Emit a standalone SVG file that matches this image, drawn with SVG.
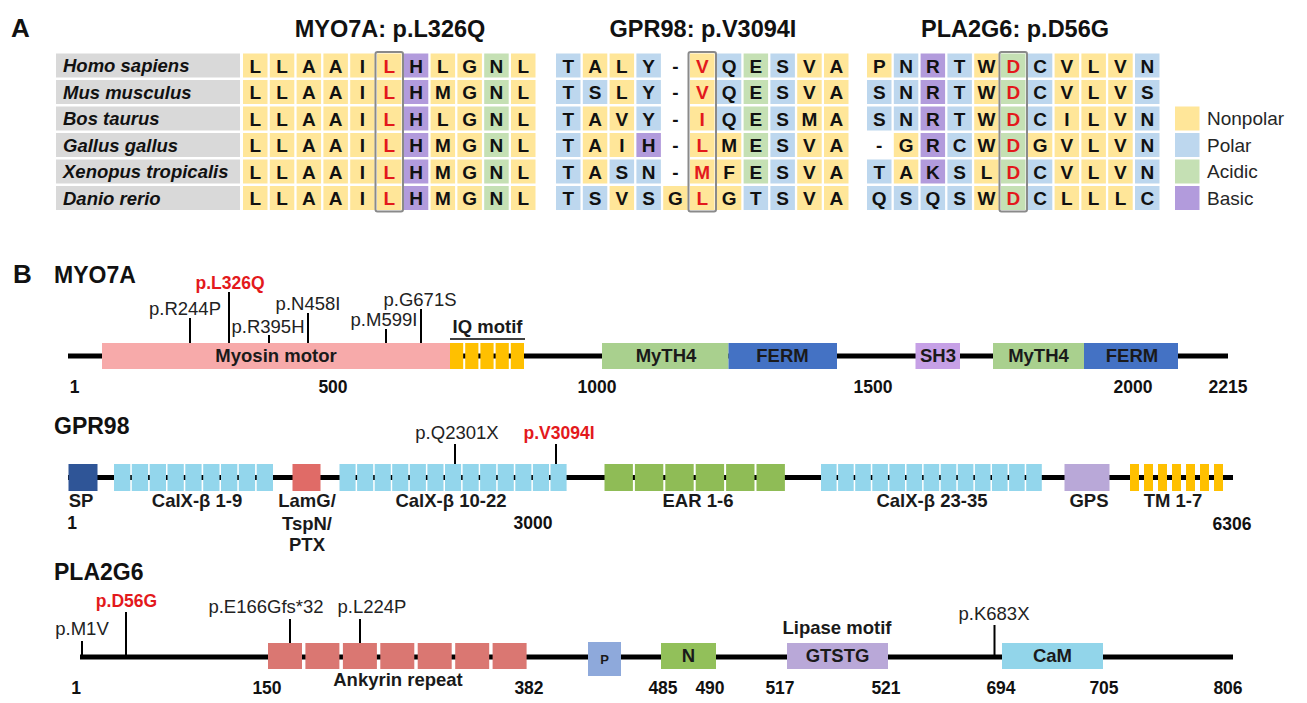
<svg xmlns="http://www.w3.org/2000/svg" xmlns:xlink="http://www.w3.org/1999/xlink" width="1307" height="703" viewBox="0 0 1307 703">
<style>
text{font-family:"Liberation Sans",Arial,sans-serif;fill:#111}
.pl{font-size:26px;font-weight:bold}
.ttl{font-size:23.5px;font-weight:bold;text-anchor:middle}
.sp{font-size:18.5px;font-weight:bold;font-style:italic}
.aa{font-size:19px;font-weight:bold;text-anchor:middle}
.red{fill:#E3191C}
.lg{font-size:19px;fill:#262626}
.gn{font-size:23px;font-weight:bold}
.mu{font-size:18.5px;fill:#222;text-anchor:middle}
.mr{font-size:17.5px;font-weight:bold;fill:#E3191C;text-anchor:middle}
.dl{font-size:18.5px;font-weight:bold;text-anchor:middle;fill:#1a1a1a}
.nm{font-size:17.5px;font-weight:bold;text-anchor:middle}
.bb{stroke:#000;stroke-width:5}
.tk{stroke:#000;stroke-width:2}
.hl{fill:none;stroke:#8a8a8a;stroke-width:2}
.lab{fill:#D9D9D9}
</style>
<defs>
<rect id="Y" width="24.5" height="24" fill="#FFE699"/>
<rect id="B" width="24.5" height="24" fill="#BDD7EE"/>
<rect id="G" width="24.5" height="24" fill="#C5E0B4"/>
<rect id="P" width="24.5" height="24" fill="#B29BDC"/>
<g id="myoRow"><use href="#Y"/><use href="#Y" x="26.8"/><use href="#Y" x="53.6"/><use href="#Y" x="80.4"/><use href="#Y" x="107.2"/><use href="#Y" x="134"/><use href="#P" x="160.8"/><use href="#Y" x="187.6"/><use href="#Y" x="214.4"/><use href="#G" x="241.2"/><use href="#Y" x="268"/></g>
</defs>
<rect width="1307" height="703" fill="#fff"/>

<g id="panelA">
<text class="pl" x="11" y="37">A</text>
<text class="ttl" x="390" y="37">MYO7A: p.L326Q</text>
<text class="ttl" x="703" y="37">GPR98: p.V3094I</text>
<text class="ttl" x="1015" y="37">PLA2G6: p.D56G</text>

<g id="species">
<rect class="lab" x="56" y="53.5" width="184" height="24"/>
<rect class="lab" x="56" y="80" width="184" height="24"/>
<rect class="lab" x="56" y="106.5" width="184" height="24"/>
<rect class="lab" x="56" y="133" width="184" height="24"/>
<rect class="lab" x="56" y="159.5" width="184" height="24"/>
<rect class="lab" x="56" y="186" width="184" height="24"/>
<text class="sp" x="63" y="72">Homo sapiens</text>
<text class="sp" x="63" y="98.5">Mus musculus</text>
<text class="sp" x="63" y="125">Bos taurus</text>
<text class="sp" x="63" y="151.5">Gallus gallus</text>
<text class="sp" x="63" y="178">Xenopus tropicalis</text>
<text class="sp" x="63" y="204.5">Danio rerio</text>
</g>

<g id="alignMYO7A" transform="translate(243,0)">
<use href="#myoRow" y="53.5"/><use href="#myoRow" y="80"/><use href="#myoRow" y="106.5"/><use href="#myoRow" y="133"/><use href="#myoRow" y="159.5"/><use href="#myoRow" y="186"/>
<text class="aa" x="12.25 39.05 65.85 92.65 119.45 146.25 173.05 199.85 226.65 253.45 280.25" y="72.5">LLAAI<tspan class="red">L</tspan>HLGNL</text>
<text class="aa" x="12.25 39.05 65.85 92.65 119.45 146.25 173.05 199.85 226.65 253.45 280.25" y="99">LLAAI<tspan class="red">L</tspan>HMGNL</text>
<text class="aa" x="12.25 39.05 65.85 92.65 119.45 146.25 173.05 199.85 226.65 253.45 280.25" y="125.5">LLAAI<tspan class="red">L</tspan>HLGNL</text>
<text class="aa" x="12.25 39.05 65.85 92.65 119.45 146.25 173.05 199.85 226.65 253.45 280.25" y="152">LLAAI<tspan class="red">L</tspan>HMGNL</text>
<text class="aa" x="12.25 39.05 65.85 92.65 119.45 146.25 173.05 199.85 226.65 253.45 280.25" y="178.5">LLAAI<tspan class="red">L</tspan>HMGNL</text>
<text class="aa" x="12.25 39.05 65.85 92.65 119.45 146.25 173.05 199.85 226.65 253.45 280.25" y="205">LLAAI<tspan class="red">L</tspan>HMGNL</text>
<rect class="hl" x="132.5" y="52" width="27.5" height="159.5" rx="2"/>
</g>

<g id="alignGPR98" transform="translate(556,0)">
<g transform="translate(0,53.5)"><use href="#B"/><use href="#Y" x="26.8"/><use href="#Y" x="53.6"/><use href="#B" x="80.4"/><use href="#Y" x="134"/><use href="#B" x="160.8"/><use href="#G" x="187.6"/><use href="#B" x="214.4"/><use href="#Y" x="241.2"/><use href="#Y" x="268"/></g>
<g transform="translate(0,80)"><use href="#B"/><use href="#B" x="26.8"/><use href="#Y" x="53.6"/><use href="#B" x="80.4"/><use href="#Y" x="134"/><use href="#B" x="160.8"/><use href="#G" x="187.6"/><use href="#B" x="214.4"/><use href="#Y" x="241.2"/><use href="#Y" x="268"/></g>
<g transform="translate(0,106.5)"><use href="#B"/><use href="#Y" x="26.8"/><use href="#Y" x="53.6"/><use href="#B" x="80.4"/><use href="#Y" x="134"/><use href="#B" x="160.8"/><use href="#G" x="187.6"/><use href="#B" x="214.4"/><use href="#Y" x="241.2"/><use href="#Y" x="268"/></g>
<g transform="translate(0,133)"><use href="#B"/><use href="#Y" x="26.8"/><use href="#Y" x="53.6"/><use href="#P" x="80.4"/><use href="#Y" x="134"/><use href="#Y" x="160.8"/><use href="#G" x="187.6"/><use href="#B" x="214.4"/><use href="#Y" x="241.2"/><use href="#Y" x="268"/></g>
<g transform="translate(0,159.5)"><use href="#B"/><use href="#Y" x="26.8"/><use href="#B" x="53.6"/><use href="#B" x="80.4"/><use href="#Y" x="134"/><use href="#Y" x="160.8"/><use href="#G" x="187.6"/><use href="#B" x="214.4"/><use href="#Y" x="241.2"/><use href="#Y" x="268"/></g>
<g transform="translate(0,186)"><use href="#B"/><use href="#B" x="26.8"/><use href="#Y" x="53.6"/><use href="#B" x="80.4"/><use href="#Y" x="107.2"/><use href="#Y" x="134"/><use href="#Y" x="160.8"/><use href="#B" x="187.6"/><use href="#B" x="214.4"/><use href="#Y" x="241.2"/><use href="#Y" x="268"/></g>
<text class="aa" x="12.25 39.05 65.85 92.65 119.45 146.25 173.05 199.85 226.65 253.45 280.25" y="72.5">TALY-<tspan class="red">V</tspan>QESVA</text>
<text class="aa" x="12.25 39.05 65.85 92.65 119.45 146.25 173.05 199.85 226.65 253.45 280.25" y="99">TSLY-<tspan class="red">V</tspan>QESVA</text>
<text class="aa" x="12.25 39.05 65.85 92.65 119.45 146.25 173.05 199.85 226.65 253.45 280.25" y="125.5">TAVY-<tspan class="red">I</tspan>QESMA</text>
<text class="aa" x="12.25 39.05 65.85 92.65 119.45 146.25 173.05 199.85 226.65 253.45 280.25" y="152">TAIH-<tspan class="red">L</tspan>MESVA</text>
<text class="aa" x="12.25 39.05 65.85 92.65 119.45 146.25 173.05 199.85 226.65 253.45 280.25" y="178.5">TASN-<tspan class="red">M</tspan>FESVA</text>
<text class="aa" x="12.25 39.05 65.85 92.65 119.45 146.25 173.05 199.85 226.65 253.45 280.25" y="205">TSVSG<tspan class="red">L</tspan>GTSVA</text>
<rect class="hl" x="132.5" y="52" width="27.5" height="159.5" rx="2"/>
</g>

<g id="alignPLA2G6" transform="translate(867,0)">
<g transform="translate(0,53.5)"><use href="#Y"/><use href="#B" x="26.8"/><use href="#P" x="53.6"/><use href="#B" x="80.4"/><use href="#Y" x="107.2"/><use href="#G" x="134"/><use href="#B" x="160.8"/><use href="#Y" x="187.6"/><use href="#Y" x="214.4"/><use href="#Y" x="241.2"/><use href="#B" x="268"/></g>
<g transform="translate(0,80)"><use href="#B"/><use href="#B" x="26.8"/><use href="#P" x="53.6"/><use href="#B" x="80.4"/><use href="#Y" x="107.2"/><use href="#G" x="134"/><use href="#B" x="160.8"/><use href="#Y" x="187.6"/><use href="#Y" x="214.4"/><use href="#Y" x="241.2"/><use href="#B" x="268"/></g>
<g transform="translate(0,106.5)"><use href="#B"/><use href="#B" x="26.8"/><use href="#P" x="53.6"/><use href="#B" x="80.4"/><use href="#Y" x="107.2"/><use href="#G" x="134"/><use href="#B" x="160.8"/><use href="#Y" x="187.6"/><use href="#Y" x="214.4"/><use href="#Y" x="241.2"/><use href="#B" x="268"/></g>
<g transform="translate(0,133)"><use href="#Y" x="26.8"/><use href="#P" x="53.6"/><use href="#B" x="80.4"/><use href="#Y" x="107.2"/><use href="#G" x="134"/><use href="#Y" x="160.8"/><use href="#Y" x="187.6"/><use href="#Y" x="214.4"/><use href="#Y" x="241.2"/><use href="#B" x="268"/></g>
<g transform="translate(0,159.5)"><use href="#B"/><use href="#Y" x="26.8"/><use href="#P" x="53.6"/><use href="#B" x="80.4"/><use href="#Y" x="107.2"/><use href="#G" x="134"/><use href="#B" x="160.8"/><use href="#Y" x="187.6"/><use href="#Y" x="214.4"/><use href="#Y" x="241.2"/><use href="#B" x="268"/></g>
<g transform="translate(0,186)"><use href="#B"/><use href="#B" x="26.8"/><use href="#B" x="53.6"/><use href="#B" x="80.4"/><use href="#Y" x="107.2"/><use href="#G" x="134"/><use href="#B" x="160.8"/><use href="#Y" x="187.6"/><use href="#Y" x="214.4"/><use href="#Y" x="241.2"/><use href="#B" x="268"/></g>
<text class="aa" x="12.25 39.05 65.85 92.65 119.45 146.25 173.05 199.85 226.65 253.45 280.25" y="72.5">PNRTW<tspan class="red">D</tspan>CVLVN</text>
<text class="aa" x="12.25 39.05 65.85 92.65 119.45 146.25 173.05 199.85 226.65 253.45 280.25" y="99">SNRTW<tspan class="red">D</tspan>CVLVS</text>
<text class="aa" x="12.25 39.05 65.85 92.65 119.45 146.25 173.05 199.85 226.65 253.45 280.25" y="125.5">SNRTW<tspan class="red">D</tspan>CILVN</text>
<text class="aa" x="12.25 39.05 65.85 92.65 119.45 146.25 173.05 199.85 226.65 253.45 280.25" y="152">-GRCW<tspan class="red">D</tspan>GVLVN</text>
<text class="aa" x="12.25 39.05 65.85 92.65 119.45 146.25 173.05 199.85 226.65 253.45 280.25" y="178.5">TAKSL<tspan class="red">D</tspan>CVLVN</text>
<text class="aa" x="12.25 39.05 65.85 92.65 119.45 146.25 173.05 199.85 226.65 253.45 280.25" y="205">QSQSW<tspan class="red">D</tspan>CLLLC</text>
<rect class="hl" x="132.5" y="52" width="27.5" height="159.5" rx="2"/>
</g>

<g id="legend">
<use href="#Y" x="1175" y="106.5"/>
<use href="#B" x="1175" y="133"/>
<use href="#G" x="1175" y="159.5"/>
<use href="#P" x="1175" y="186"/>
<text class="lg" x="1207" y="125">Nonpolar</text>
<text class="lg" x="1207" y="151.5">Polar</text>
<text class="lg" x="1207" y="178">Acidic</text>
<text class="lg" x="1207" y="204.5">Basic</text>
</g>
</g>

<g id="panelB">
<text class="pl" x="13" y="283">B</text>

<g id="connectors">
<line class="bb" x1="68" y1="356" x2="1228" y2="356"/>
<line class="bb" x1="68" y1="477.5" x2="1233" y2="477.5"/>
<line class="bb" x1="80" y1="657" x2="1233" y2="657"/>
<line class="tk" x1="190" y1="318" x2="190" y2="343"/>
<line class="tk" x1="229" y1="292" x2="229" y2="343"/>
<line class="tk" x1="269" y1="335" x2="269" y2="343"/>
<line class="tk" x1="308" y1="313" x2="308" y2="343"/>
<line class="tk" x1="386" y1="329" x2="386" y2="343"/>
<line class="tk" x1="421" y1="309" x2="421" y2="343"/>
<line stroke="#000" stroke-width="1.5" x1="450" y1="339" x2="525" y2="339"/>
<line class="tk" x1="455" y1="444" x2="455" y2="464"/>
<line class="tk" x1="556" y1="444" x2="556" y2="464"/>
<line class="tk" x1="82" y1="641" x2="82" y2="657"/>
<line class="tk" x1="126" y1="612" x2="126" y2="657"/>
<line class="tk" x1="290" y1="619" x2="290" y2="643"/>
<line class="tk" x1="360" y1="619" x2="360" y2="643"/>
<line class="tk" x1="994.5" y1="625" x2="994.5" y2="657"/>
</g>

<g id="MYO7A">
<text class="gn" x="54" y="283">MYO7A</text>
<g id="myo-motor"><rect x="102" y="343" width="348" height="26" fill="#F7AAAA"/><text class="dl" x="276" y="362">Myosin motor</text></g>
<g id="myo-iq" fill="#FFC000"><rect x="450" y="343" width="13.2" height="26"/><rect x="465.2" y="343" width="13.2" height="26"/><rect x="480.4" y="343" width="13.2" height="26"/><rect x="495.6" y="343" width="13.2" height="26"/><rect x="510.8" y="343" width="13.2" height="26"/></g>
<text class="dl" x="487.5" y="333">IQ motif</text>
<g id="myo-myth4a"><rect x="602" y="343" width="126.5" height="26" fill="#A9D08E"/><text class="dl" x="666" y="362">MyTH4</text></g>
<g id="myo-ferma"><rect x="728.5" y="343" width="108.5" height="26" fill="#4472C4"/><text class="dl" x="782.5" y="362">FERM</text></g>
<g id="myo-sh3"><rect x="915.5" y="343" width="44.5" height="26" fill="#C6A0E6"/><text class="dl" x="938" y="362">SH3</text></g>
<g id="myo-myth4b"><rect x="993" y="343" width="91" height="26" fill="#A9D08E"/><text class="dl" x="1038.5" y="362">MyTH4</text></g>
<g id="myo-fermb"><rect x="1084" y="343" width="94" height="26" fill="#4472C4"/><text class="dl" x="1132" y="362">FERM</text></g>
<text class="mu" x="185" y="315">p.R244P</text>
<text class="mr" x="230" y="289">p.L326Q</text>
<text class="mu" x="268" y="333">p.R395H</text>
<text class="mu" x="308" y="310">p.N458I</text>
<text class="mu" x="384" y="326">p.M599I</text>
<text class="mu" x="420" y="306">p.G671S</text>
<text class="nm" x="74.5" y="393">1</text>
<text class="nm" x="333" y="393">500</text>
<text class="nm" x="597" y="393">1000</text>
<text class="nm" x="873" y="393">1500</text>
<text class="nm" x="1133" y="393">2000</text>
<text class="nm" x="1228" y="393">2215</text>
</g>

<g id="GPR98">
<text class="gn" x="54" y="434">GPR98</text>
<rect id="gpr-sp" x="68.5" y="464" width="29" height="27" fill="#2F5597"/>
<g id="gpr-calx1" fill="#93D6EC"><rect x="114" y="464" width="16.3" height="27"/><rect x="131.8" y="464" width="16.3" height="27"/><rect x="149.7" y="464" width="16.3" height="27"/><rect x="167.5" y="464" width="16.3" height="27"/><rect x="185.3" y="464" width="16.3" height="27"/><rect x="203.2" y="464" width="16.3" height="27"/><rect x="221" y="464" width="16.3" height="27"/><rect x="238.8" y="464" width="16.3" height="27"/><rect x="256.7" y="464" width="16.3" height="27"/></g>
<rect id="gpr-lamg" x="292.5" y="464" width="28" height="27" fill="#E06B67"/>
<g id="gpr-calx2" fill="#93D6EC"><rect x="339.5" y="464" width="16.1" height="27"/><rect x="357.1" y="464" width="16.1" height="27"/><rect x="374.7" y="464" width="16.1" height="27"/><rect x="392.2" y="464" width="16.1" height="27"/><rect x="409.8" y="464" width="16.1" height="27"/><rect x="427.4" y="464" width="16.1" height="27"/><rect x="445" y="464" width="16.1" height="27"/><rect x="462.6" y="464" width="16.1" height="27"/><rect x="480.1" y="464" width="16.1" height="27"/><rect x="497.7" y="464" width="16.1" height="27"/><rect x="515.3" y="464" width="16.1" height="27"/><rect x="532.9" y="464" width="16.1" height="27"/><rect x="550.5" y="464" width="16.1" height="27"/></g>
<g id="gpr-ear" fill="#8FBC56"><rect x="604.5" y="464" width="28.4" height="27"/><rect x="634.9" y="464" width="28.4" height="27"/><rect x="665.3" y="464" width="28.4" height="27"/><rect x="695.7" y="464" width="28.4" height="27"/><rect x="726.1" y="464" width="28.4" height="27"/><rect x="756.5" y="464" width="28.4" height="27"/></g>
<g id="gpr-calx3" fill="#93D6EC"><rect x="821" y="464" width="15.6" height="27"/><rect x="838.1" y="464" width="15.6" height="27"/><rect x="855.2" y="464" width="15.6" height="27"/><rect x="872.3" y="464" width="15.6" height="27"/><rect x="889.4" y="464" width="15.6" height="27"/><rect x="906.5" y="464" width="15.6" height="27"/><rect x="923.6" y="464" width="15.6" height="27"/><rect x="940.7" y="464" width="15.6" height="27"/><rect x="957.8" y="464" width="15.6" height="27"/><rect x="974.9" y="464" width="15.6" height="27"/><rect x="992" y="464" width="15.6" height="27"/><rect x="1009.1" y="464" width="15.6" height="27"/><rect x="1026.2" y="464" width="15.6" height="27"/></g>
<rect id="gpr-gps" x="1064.5" y="464" width="45" height="27" fill="#B9A8D8"/>
<g id="gpr-tm" fill="#FFC000"><rect x="1130" y="464" width="9" height="27"/><rect x="1144" y="464" width="9" height="27"/><rect x="1158" y="464" width="9" height="27"/><rect x="1172" y="464" width="9" height="27"/><rect x="1186" y="464" width="9" height="27"/><rect x="1200" y="464" width="9" height="27"/><rect x="1214" y="464" width="9" height="27"/></g>
<text class="mu" x="457" y="439">p.Q2301X</text>
<text class="mr" x="559" y="439">p.V3094I</text>
<text class="dl" x="81" y="507">SP</text>
<text class="dl" x="197" y="507">CalX-β 1-9</text>
<text class="dl" x="307" y="507">LamG/</text>
<text class="dl" x="307" y="530">TspN/</text>
<text class="dl" x="307" y="551">PTX</text>
<text class="dl" x="451" y="507">CalX-β 10-22</text>
<text class="dl" x="698" y="507">EAR 1-6</text>
<text class="dl" x="932" y="507">CalX-β 23-35</text>
<text class="dl" x="1089" y="507">GPS</text>
<text class="dl" x="1173" y="507">TM 1-7</text>
<text class="nm" x="72" y="529">1</text>
<text class="nm" x="533" y="529">3000</text>
<text class="nm" x="1232" y="530">6306</text>
</g>

<g id="PLA2G6">
<text class="gn" x="54" y="580">PLA2G6</text>
<g id="pla-ank" fill="#DA7772"><rect x="268" y="643" width="34" height="26"/><rect x="305.4" y="643" width="34" height="26"/><rect x="342.9" y="643" width="34" height="26"/><rect x="380.3" y="643" width="34" height="26"/><rect x="417.7" y="643" width="34" height="26"/><rect x="455.2" y="643" width="34" height="26"/><rect x="492.6" y="643" width="34" height="26"/></g>
<g id="pla-p"><rect x="588" y="642" width="33" height="34" fill="#8EA9DB"/><text class="dl" x="604.5" y="664" style="font-size:13px">P</text></g>
<g id="pla-n"><rect x="661" y="643" width="55" height="26" fill="#92C05A"/><text class="dl" x="688.5" y="662">N</text></g>
<g id="pla-gtstg"><rect x="787" y="643" width="101" height="26" fill="#B9A8D8"/><text class="dl" x="837.5" y="662">GTSTG</text></g>
<g id="pla-cam"><rect x="1002" y="643" width="101" height="26" fill="#92D5EA"/><text class="dl" x="1052.5" y="662">CaM</text></g>
<text class="dl" x="837" y="634">Lipase motif</text>
<text class="dl" x="398" y="686">Ankyrin repeat</text>
<text class="mu" x="82" y="635">p.M1V</text>
<text class="mr" x="126.5" y="607">p.D56G</text>
<text class="mu" x="266" y="613">p.E166Gfs*32</text>
<text class="mu" x="372" y="613">p.L224P</text>
<text class="mu" x="994" y="620">p.K683X</text>
<text class="nm" x="76" y="694">1</text>
<text class="nm" x="267" y="694">150</text>
<text class="nm" x="529" y="694">382</text>
<text class="nm" x="663" y="694">485</text>
<text class="nm" x="710" y="694">490</text>
<text class="nm" x="780" y="694">517</text>
<text class="nm" x="886" y="694">521</text>
<text class="nm" x="1001" y="694">694</text>
<text class="nm" x="1104" y="694">705</text>
<text class="nm" x="1228" y="694">806</text>
</g>
</g>
</svg>
